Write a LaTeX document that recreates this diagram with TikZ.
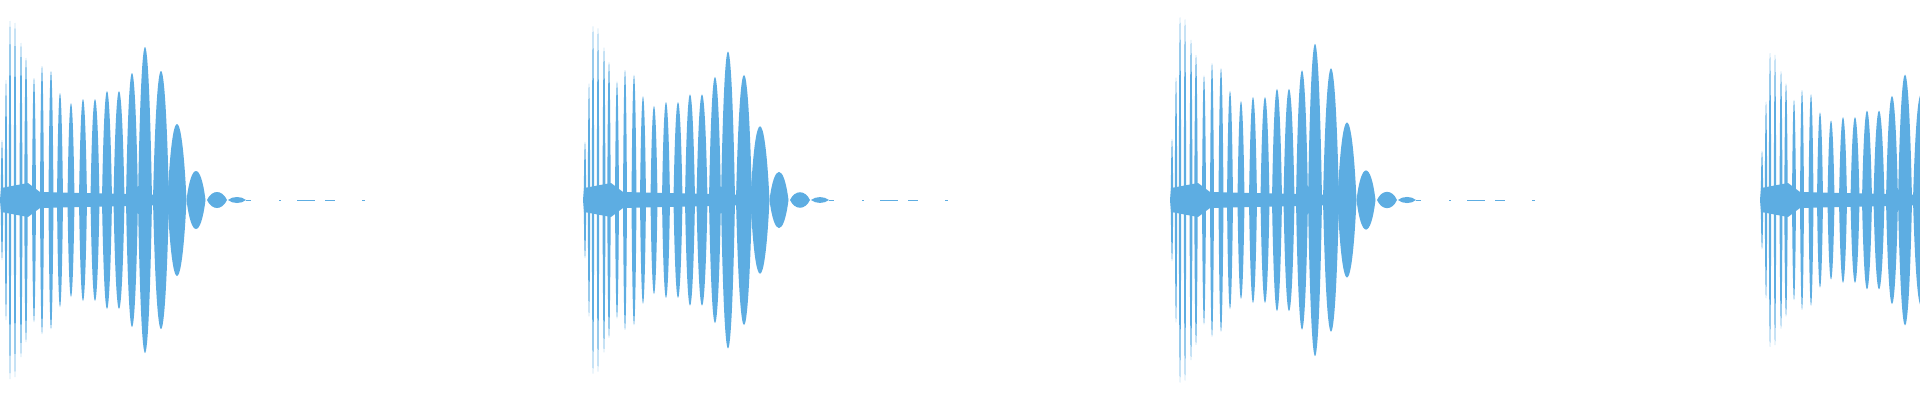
\documentclass[tikz,border=0pt]{standalone}
\definecolor{wave}{RGB}{93,173,226}
\tikzset{lobe/.style={fill=wave},dashseg/.style={draw=wave,line width=1pt}}
\begin{document}
\begin{tikzpicture}[x=1pt,y=1pt]
\useasboundingbox (0,0) rectangle (1920,400);
\clip (0,0) rectangle (1920,400);
\foreach \o/\s in {0/1,583/0.97,1170/1.02,1760/0.82}{
  \begin{scope}[xshift=\o pt]
  \fill[wave] (0,200) -- (1,188) -- (28,183) -- (40,192) -- (170,195) -- (175,200) -- (170,205) -- (40,208) -- (28,217) -- (1,212) -- cycle;
  \foreach \c/\a/\w in {2/60/2.5,6/120/2.5,10/179/2.5,15/177/2.5,21/157/3,26/142/3.5,34/122/4,42/134/4,51/129/5,60/107/6,71/97/7,83/101/8,95/101/9,107/109/10,119/109/11,132/127/12,145/153/14,161/129/16,177/76/19,196/29/19,217/8/20,237/3/18}{
    \pgfmathsetmacro{\A}{\a*\s*4/3}
    \fill[lobe] (\c-\w/2,200) .. controls (\c-\w/4,200+\A) and (\c+\w/4,200+\A) .. (\c+\w/2,200)
      .. controls (\c+\w/4,200-\A) and (\c-\w/4,200-\A) .. (\c-\w/2,200) -- cycle;
  }
  \draw[dashseg] (246,200) -- (251,200);
  \draw[dashseg] (279,200) -- (281,200);
  \draw[dashseg] (297,200) -- (315,200);
  \draw[dashseg] (325,200) -- (335,200);
  \draw[dashseg] (362,200) -- (365,200);
  \end{scope}
}
\end{tikzpicture}
\end{document}
